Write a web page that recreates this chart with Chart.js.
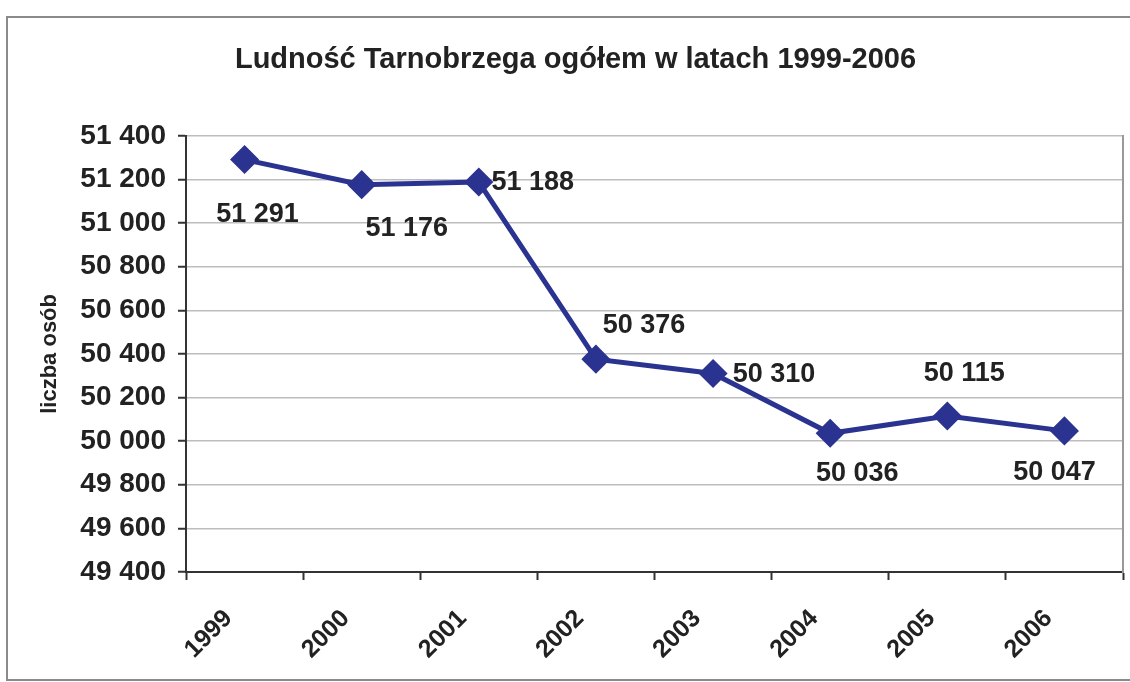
<!DOCTYPE html>
<html>
<head>
<meta charset="utf-8">
<script src="https://cdn.jsdelivr.net/npm/chart.js@4"></script>
<style>
  html, body { margin: 0; padding: 0; background: #fff; }
  #wrap { width: 1130px; height: 682px; position: relative; }
</style>
</head>
<body>
<div id="wrap"><canvas id="myChart" width="1130" height="682"></canvas></div>
<script>
// chart data
var years = ["1999", "2000", "2001", "2002", "2003", "2004", "2005", "2006"];
var population = [51291, 51176, 51188, 50376, 50310, 50036, 50115, 50047];
var yMin = 49400, yMax = 51400, yStep = 200;

// where each value label sits relative to its point (dx, dy)
var labelShift = [[13, 55], [45, 44], [54, 1], [48, -34], [61, 1], [27, 40], [17, -43], [-10, 42]];

var FONT = "'Liberation Sans', Arial, sans-serif";
var INK = "#222";

function fmt(v) {
    return String(v).replace(/\B(?=(\d{3})+(?!\d))/g, " ");
}

// outer frame of the chart
var framePlugin = {
    id: "frame",
    beforeDraw: function(chart) {
        var c = chart.ctx;
        c.save();
        c.fillStyle = "#fff";
        c.fillRect(0, 0, chart.width, chart.height);
        c.strokeStyle = "#8a8a8a";
        c.lineWidth = 2;
        c.strokeRect(7, 17, chart.width + 10, chart.height - 19);
        c.restore();
    }
};

// value labels next to the points
var valueLabels = {
    id: "valueLabels",
    afterDatasetsDraw: function(chart) {
        var c = chart.ctx;
        var meta = chart.getDatasetMeta(0);
        c.save();
        c.font = "bold 27px " + FONT;
        c.fillStyle = INK;
        c.textAlign = "center";
        c.textBaseline = "middle";
        meta.data.forEach(function(pt, i) {
            var s = labelShift[i];
            c.fillText(fmt(population[i]), pt.x + s[0], pt.y + s[1]);
        });
        c.restore();
    }
};

var ctx = document.getElementById("myChart").getContext("2d");

var myChart = new Chart(ctx, {
    type: 'line',
    data: {
        labels: years,
        datasets: [{
            label: "Ludność",
            data: population,
            borderColor: "#2b3391",
            backgroundColor: "#2b3391",
            borderWidth: 5,
            pointStyle: "rectRot",
            pointRadius: 11,
            pointHoverRadius: 11,
            pointBackgroundColor: "#2b3391",
            pointBorderColor: "#2b3391",
            tension: 0
        }]
    },
    options: {
        responsive: false,
        animation: false,
        events: [],
        layout: { autoPadding: false, padding: { top: 25, left: 28, right: 7, bottom: 0 } },
        plugins: {
            legend: { display: false },
            tooltip: { enabled: false },
            title: {
                display: true,
                text: "Ludność Tarnobrzega ogółem w latach 1999-2006",
                color: INK,
                font: { family: FONT, size: 29, weight: "bold" },
                padding: { top: 18, bottom: 58 }
            }
        },
        scales: {
            x: {
                offset: true,
                grid: {
                    offset: true,
                    drawOnChartArea: false,
                    drawTicks: true,
                    tickLength: 8,
                    tickColor: "#333",
                    tickWidth: 2
                },
                border: { color: "#333", width: 2 },
                ticks: {
                    color: INK,
                    font: { family: FONT, size: 25, weight: "bold" },
                    minRotation: 45,
                    maxRotation: 45,
                    padding: 24,
                    labelOffset: -16
                },
                afterFit: function(s) {
                    s.height = 110;
                    s.paddingLeft = 0;
                    s.paddingRight = 0;
                }
            },
            y: {
                min: yMin,
                max: yMax,
                grid: {
                    color: "#bdbdbd",
                    lineWidth: 1.5,
                    tickLength: 8,
                    tickColor: "#333",
                    tickWidth: 2
                },
                border: { color: "#333", width: 2 },
                ticks: {
                    stepSize: yStep,
                    color: INK,
                    padding: 12,
                    font: { family: FONT, size: 28, weight: "bold" },
                    callback: function(v) { return fmt(v); }
                },
                title: {
                    display: true,
                    text: "liczba osób",
                    color: INK,
                    font: { family: FONT, size: 22, weight: "bold" },
                    padding: { top: 9, bottom: 0 }
                },
                afterFit: function(s) { s.width = 158; }
            },
            yRight: {
                position: "right",
                min: yMin,
                max: yMax,
                grid: { drawOnChartArea: false, drawTicks: false },
                border: { color: "#999", width: 2 },
                ticks: { display: false },
                afterFit: function(s) { s.width = 0; }
            }
        }
    },
    plugins: [framePlugin, valueLabels]
});
</script>
</body>
</html>
